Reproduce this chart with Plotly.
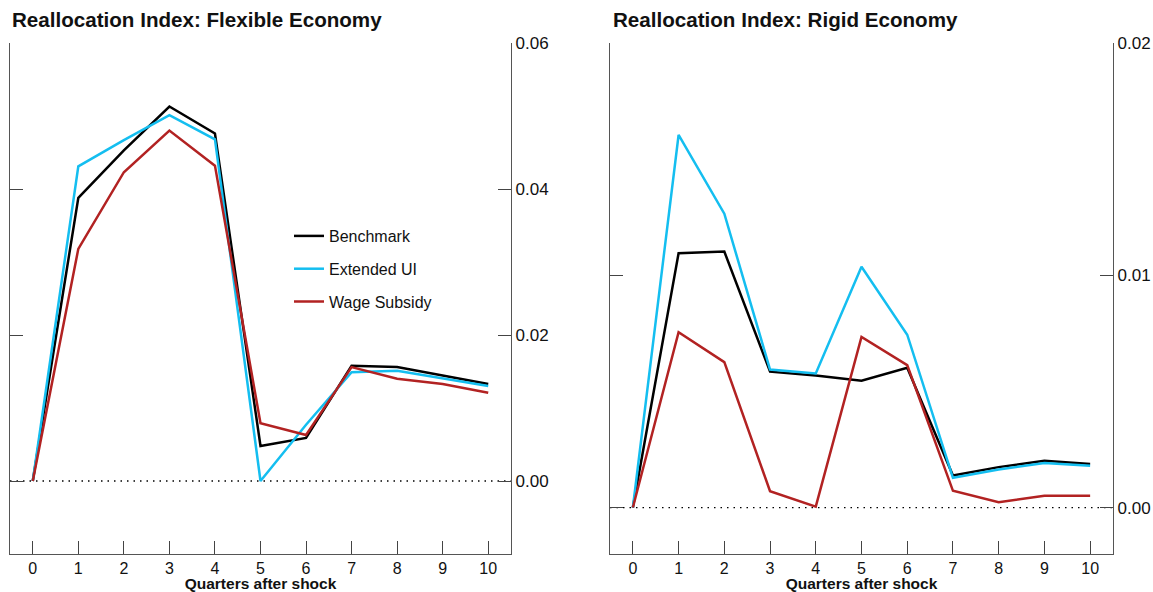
import plotly.graph_objects as go

quarters = list(range(11))

# Flexible economy
flex_benchmark = [0.0, 0.0388, 0.0453, 0.0513, 0.0476, 0.0048, 0.0059, 0.0158, 0.0156, 0.0145, 0.0133]
flex_ext_ui = [0.0, 0.0431, 0.0467, 0.0501, 0.0468, 0.0000, 0.0077, 0.0149, 0.0151, 0.0141, 0.0130]
flex_wage = [0.0, 0.0318, 0.0423, 0.0480, 0.0432, 0.0079, 0.0063, 0.0156, 0.0140, 0.0133, 0.0121]

# Rigid economy
rigid_benchmark = [0.0, 0.01095, 0.01102, 0.00585, 0.00568, 0.00546, 0.00602, 0.00138, 0.00174, 0.00201, 0.00187]
rigid_ext_ui = [0.0, 0.01604, 0.01265, 0.00594, 0.00577, 0.01037, 0.00744, 0.00128, 0.00164, 0.00192, 0.00180]
rigid_wage = [0.0, 0.00755, 0.00626, 0.00070, 0.00004, 0.00735, 0.00613, 0.00072, 0.00023, 0.00051, 0.00051]

series_names = ["Benchmark", "Extended UI", "Wage Subsidy"]
colors = ["#000000", "#14BEF0", "#B22222"]

titles = ["Reallocation Index: Flexible Economy", "Reallocation Index: Rigid Economy"]
x_title = "Quarters after shock"

W, H = 1153, 592
FONT = "Liberation Sans, Arial, sans-serif"

fig = go.Figure()

panels = [
    ("x", "y", [flex_benchmark, flex_ext_ui, flex_wage], True),
    ("x2", "y2", [rigid_benchmark, rigid_ext_ui, rigid_wage], False),
]
for xa, ya, data, show in panels:
    for i, (name, vals) in enumerate(zip(series_names, data)):
        fig.add_trace(go.Scatter(
            x=quarters, y=vals, mode="lines", name=name,
            line=dict(color=colors[i], width=2.5),
            xaxis=xa, yaxis=ya, showlegend=show, legendgroup=name,
        ))

def px_x(p):
    return p / W

def px_y(p):
    return 1 - p / H

ydom = [px_y(554), px_y(43)]
axis_common = dict(
    showline=True, linecolor="#555555", linewidth=1.3,
    ticks="inside", ticklen=13, tickcolor="#444444", tickwidth=1.3,
    showgrid=False, zeroline=False, automargin=False,
    tickfont=dict(family=FONT, size=17, color="#111111"),
)

xcommon = dict(axis_common, range=[-0.5, 10.5], tickvals=quarters,
               tickfont=dict(family=FONT, size=16, color="#111111"),
               title=dict(text="<b>" + x_title + "</b>", font=dict(family=FONT, size=15.5, color="#111111"), standoff=0))

fig.update_layout(
    width=W, height=H,
    margin=dict(l=0, r=0, t=0, b=0, autoexpand=False),
    paper_bgcolor="white", plot_bgcolor="white",
    font=dict(family=FONT, size=16, color="#111111"),
    xaxis=dict(xcommon, domain=[px_x(10), px_x(511)], anchor="y"),
    xaxis2=dict(xcommon, domain=[px_x(610), px_x(1113)], anchor="y2"),
    yaxis=dict(axis_common, domain=ydom, range=[-0.01, 0.06], side="right", mirror="ticks",
               tickvals=[0, 0.02, 0.04, 0.06], tickformat=".2f", anchor="x"),
    yaxis2=dict(axis_common, domain=ydom, range=[-0.002, 0.02], side="right", mirror="ticks",
                tickvals=[0, 0.01, 0.02], tickformat=".2f", anchor="x2"),
    legend=dict(x=px_x(289), y=px_y(219), xanchor="left", yanchor="top",
                bgcolor="rgba(0,0,0,0)", font=dict(family=FONT, size=16, color="#111111"),
                tracegroupgap=9, traceorder="grouped"),
    showlegend=True,
)

for xa, ya in [("x", "y"), ("x2", "y2")]:
    fig.add_shape(type="line", xref=xa + " domain", yref=ya, x0=0, x1=1, y0=0, y1=0,
                  line=dict(color="black", width=1.3, dash="1.5px,5px"), layer="below")

for title, xp in zip(titles, [10, 611]):
    fig.add_annotation(text="<b>" + title + "</b>", xref="paper", yref="paper",
                       x=px_x(xp), y=px_y(20), xanchor="left", yanchor="middle",
                       showarrow=False, font=dict(family=FONT, size=20.6, color="#111111"))

fig.write_html("out.html")
